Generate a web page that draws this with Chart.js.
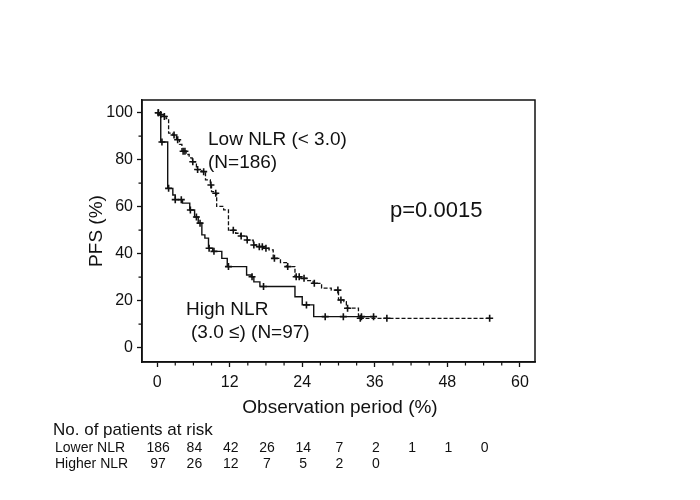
<!DOCTYPE html>
<html>
<head>
<meta charset="utf-8">
<script src="https://cdn.jsdelivr.net/npm/chart.js@4.4.0/dist/chart.umd.min.js"></script>
<style>
html,body{margin:0;padding:0;background:#fff;}
#wrap{width:700px;height:500px;}
</style>
</head>
<body>
<div id="wrap"><canvas id="c" width="700" height="500"></canvas></div>
<script>
// ---- Data ----
// Low NLR (< 3.0): event times and survival after each drop
const lowT = [0, 0.5, 1.0, 1.5, 1.9, 2.6, 3.2, 3.7, 4.1, 4.8, 5.3, 5.8, 6.5, 7.4, 8.0, 8.8, 9.0, 9.5, 9.85, 11.0, 11.8, 13.0, 13.8, 14.8, 15.9, 16.6, 17.6, 18.5, 19.2, 20.4, 21.4, 22.8, 23.8, 24.8, 25.8, 27.2, 28.8, 30.0, 30.9, 31.3, 33.3];
const lowS = [100, 99.2, 98.4, 97.5, 91.3, 90.5, 88.5, 86.5, 83.6, 82.2, 80.8, 79.1, 75.8, 74.9, 71.4, 69.2, 66.4, 65.7, 60.1, 58.6, 50.0, 48.7, 47.5, 45.8, 43.7, 43.0, 42.3, 41.6, 38.0, 36.2, 34.5, 30.2, 29.5, 28.5, 27.4, 25.3, 24.5, 20.3, 19.6, 16.8, 12.5];
const lowEnd = 55;
const lowCens = [0.2, 0.6, 1.2, 2.8, 3.4, 4.3, 4.6, 5.9, 6.7, 7.7, 8.9, 9.7, 12.6, 13.9, 14.9, 16.0, 16.9, 17.4, 18.0, 19.4, 21.6, 23.0, 23.5, 24.3, 26.0, 29.9, 30.4, 31.5, 33.6, 38.0, 55.0];

// High NLR (3.0 <=)
const highT = [0, 0.3, 0.6, 1.75, 2.6, 3.0, 4.2, 5.4, 6.2, 6.8, 7.4, 7.9, 8.5, 9.2, 10.7, 11.6, 14.8, 15.6, 16.0, 17.0, 22.8, 24.0, 25.9];
const highS = [100, 99, 87.5, 67.8, 65, 63, 61.5, 58.6, 55.6, 53, 48, 46.6, 42.3, 41, 38, 34.5, 30.9, 30.2, 28, 26, 21.7, 18.2, 13.2];
const highEnd = 36;
const highCens = [0.2, 0.8, 1.9, 3.0, 4.0, 5.5, 6.5, 7.1, 8.6, 9.4, 11.8, 15.7, 17.6, 24.7, 27.8, 30.8, 33.8, 35.8];

// Axis ticks
const xTicks = [0, 12, 24, 36, 48, 60];
const yTicks = [0, 20, 40, 60, 80, 100];
const xMinor = [3, 6, 9, 15, 18, 21, 27, 30, 33, 39, 42, 45, 51, 54, 57];
const yMinor = [10, 30, 50, 70, 90];

// Number at risk
const riskTimes = [0, 6, 12, 18, 24, 30, 36, 42, 48, 54];
const riskLow = [186, 84, 42, 26, 14, 7, 2, 1, 1, 0];
const riskHigh = [97, 26, 12, 7, 5, 2, 0];

// ---- Build datasets ----
function curve(T, S, end) {
  const pts = T.map((t, i) => ({x: t, y: S[i]}));
  pts.push({x: end, y: S[S.length - 1]});
  return pts;
}
function valueAt(T, S, c) {
  let v = S[0];
  for (let i = 0; i < T.length; i++) { if (T[i] <= c) v = S[i]; }
  return v;
}
const lowCurve = curve(lowT, lowS, lowEnd);
const highCurve = curve(highT, highS, highEnd);
const lowMarks = lowCens.map(c => ({x: c, y: valueAt(lowT, lowS, c)}));
const highMarks = highCens.map(c => ({x: c, y: valueAt(highT, highS, c)}));

const FONT = "'Liberation Sans', Arial, sans-serif";
const INK = '#111';

const decor = {
  id: 'decor',
  afterDraw(chart) {
    const ctx = chart.ctx;
    const a = chart.chartArea;
    const xs = chart.scales.x, ys = chart.scales.y;
    ctx.save();
    ctx.strokeStyle = INK;
    ctx.lineWidth = 1.5;
    ctx.strokeRect(a.left, a.top, a.right - a.left, a.bottom - a.top);
    // minor ticks
    ctx.lineWidth = 1.2;
    ctx.beginPath();
    xMinor.forEach(v => {
      const px = xs.getPixelForValue(v);
      ctx.moveTo(px, a.bottom); ctx.lineTo(px, a.bottom + 3.5);
    });
    yMinor.forEach(v => {
      const py = ys.getPixelForValue(v);
      ctx.moveTo(a.left, py); ctx.lineTo(a.left - 3.5, py);
    });
    ctx.stroke();

    ctx.fillStyle = INK;
    ctx.textBaseline = 'middle';
    // axis titles
    ctx.font = '19px ' + FONT;
    ctx.textAlign = 'center';
    ctx.fillText('Observation period (%)', 340, 408);
    ctx.save();
    ctx.translate(97, 231);
    ctx.rotate(-Math.PI / 2);
    ctx.fillText('PFS (%)', 0, 0);
    ctx.restore();

    // annotations
    ctx.textAlign = 'left';
    ctx.font = '19px ' + FONT;
    ctx.fillText('Low NLR (< 3.0)', 208, 140);
    ctx.fillText('(N=186)', 208, 163);
    ctx.fillText('High NLR', 186, 310);
    ctx.fillText('(3.0 \u2264) (N=97)', 191, 333);
    ctx.font = '22px ' + FONT;
    ctx.fillText('p=0.0015', 390, 211);

    // risk table
    ctx.font = '17px ' + FONT;
    ctx.fillText('No. of patients at risk', 53, 430);
    ctx.font = '14px ' + FONT;
    ctx.fillText('Lower NLR', 55, 448);
    ctx.fillText('Higher NLR', 55, 464);
    ctx.textAlign = 'center';
    riskLow.forEach((n, i) => ctx.fillText(String(n), xs.getPixelForValue(riskTimes[i]) + 1, 448));
    riskHigh.forEach((n, i) => ctx.fillText(String(n), xs.getPixelForValue(riskTimes[i]) + 1, 464));
    ctx.restore();
  }
};

new Chart(document.getElementById('c'), {
  type: 'scatter',
  data: {
    datasets: [
      { label: 'Low NLR', data: lowCurve, showLine: true, stepped: 'before', borderColor: INK, borderWidth: 1.3, borderDash: [4, 2], pointRadius: 0, fill: false },
      { label: 'High NLR', data: highCurve, showLine: true, stepped: 'before', borderColor: INK, borderWidth: 1.4, pointRadius: 0, fill: false },
      { label: 'Low censored', data: lowMarks, pointStyle: 'cross', pointRadius: 3.5, borderColor: INK, borderWidth: 1.6, backgroundColor: INK },
      { label: 'High censored', data: highMarks, pointStyle: 'cross', pointRadius: 3.5, borderColor: INK, borderWidth: 1.6, backgroundColor: INK }
    ]
  },
  options: {
    responsive: false,
    animation: false,
    layout: { padding: { top: 100, right: 165, left: 0, bottom: 0 } },
    plugins: { legend: { display: false }, tooltip: { enabled: false } },
    scales: {
      x: {
        type: 'linear', min: -2.5, max: 62.5,
        afterBuildTicks: s => { s.ticks = xTicks.map(v => ({value: v})); },
        afterFit: s => { s.height = 138; },
        grid: { drawOnChartArea: false, tickLength: 5, tickColor: INK, tickWidth: 1.3 },
        border: { display: true, color: INK, width: 1.5 },
        ticks: { color: INK, font: { family: FONT, size: 16 }, padding: 6, maxRotation: 0 }
      },
      y: {
        type: 'linear', min: -6.1, max: 105.4,
        afterBuildTicks: s => { s.ticks = yTicks.map(v => ({value: v})); },
        afterFit: s => { s.width = 142; },
        grid: { drawOnChartArea: false, tickLength: 5, tickColor: INK, tickWidth: 1.3 },
        border: { display: true, color: INK, width: 1.5 },
        ticks: { color: INK, font: { family: FONT, size: 16 }, padding: 4 }
      }
    }
  },
  plugins: [decor]
});
</script>
</body>
</html>
